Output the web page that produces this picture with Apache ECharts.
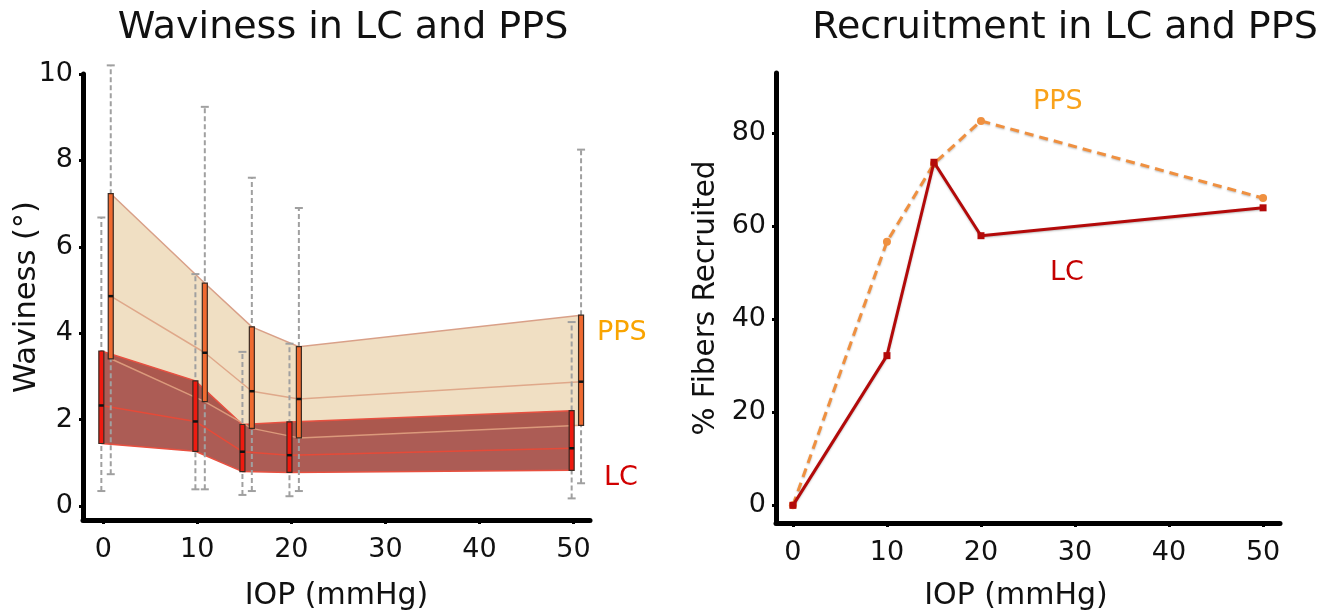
<!DOCTYPE html>
<html>
<head>
<meta charset="utf-8">
<script src="https://cdn.jsdelivr.net/npm/echarts@6/dist/echarts.min.js"></script>
<style>
html,body{margin:0;padding:0;background:#fff;}
#c{width:1339px;height:616px;}
</style>
</head>
<body>
<div id="c"></div>
<script>
// ---- Waviness (left panel) ----
const iop = [0, 10, 15, 20, 50];
const lcMin = [0.35, 0.39, 0.26, 0.23, 0.18];
const lcQ1 = [1.45, 1.27, 0.80, 0.78, 0.83];
const lcMed = [2.33, 1.96, 1.26, 1.18, 1.34];
const lcQ3 = [3.59, 2.90, 1.89, 1.95, 2.21];
const lcMax = [6.68, 5.37, 3.57, 3.76, 4.26];
const ppsMin = [0.74, 0.39, 0.35, 0.35, 0.53];
const ppsQ1 = [3.41, 2.42, 1.80, 1.58, 1.87];
const ppsMed = [4.86, 3.55, 2.66, 2.48, 2.88];
const ppsQ3 = [7.23, 5.16, 4.15, 3.69, 4.42];
const ppsMax = [10.2, 9.24, 7.60, 6.90, 8.25];
const wavYTicks = [0, 2, 4, 6, 8, 10];
const iopTicks = [0, 10, 20, 30, 40, 50];

// ---- Recruitment (right panel) ----
const recIop = [0, 10, 15, 20, 50];
const lcRec = [0, 32.2, 73.8, 58.0, 64.0];
const ppsRec = [0, 56.7, 73.5, 82.7, 66.1];
const recYTicks = [0, 20, 40, 60, 80];

const LC_OFF = -0.2, PPS_OFF = 0.8;
const FONT = 'DejaVu Sans';

function bandRender(q1, q3, off, fill, stroke, drawBottom) {
  return function (params, api) {
    if (params.dataIndex !== 0) return;
    const top = iop.map((x, i) => api.coord([x + off, q3[i]]));
    const bot = iop.map((x, i) => api.coord([x + off, q1[i]]));
    const poly = top.concat(bot.slice().reverse());
    const children = [
      {type: 'polygon', shape: {points: poly}, style: {fill: fill, stroke: null}},
      {type: 'polyline', shape: {points: top}, style: {stroke: stroke, lineWidth: 1.5, fill: null}}
    ];
    if (drawBottom) {
      children.push({type: 'polyline', shape: {points: bot}, style: {stroke: stroke, lineWidth: 1.5, fill: null}});
    }
    return {type: 'group', children: children};
  };
}

function whiskerRender(params, api) {
  const x = api.value(0), lo = api.value(1), hi = api.value(2);
  const p1 = api.coord([x, lo]), p2 = api.coord([x, hi]);
  const c = '#a0a0a0';
  return {
    type: 'group',
    children: [
      {type: 'line', shape: {x1: p1[0], y1: p1[1], x2: p2[0], y2: p2[1]},
       style: {stroke: c, lineWidth: 2, lineDash: [5, 3]}},
      {type: 'line', shape: {x1: p1[0] - 4, y1: p1[1], x2: p1[0] + 4, y2: p1[1]},
       style: {stroke: c, lineWidth: 2}},
      {type: 'line', shape: {x1: p2[0] - 4, y1: p2[1], x2: p2[0] + 4, y2: p2[1]},
       style: {stroke: c, lineWidth: 2}}
    ]
  };
}

function boxRender(fill) {
  return function (params, api) {
    const x = api.value(0), q1 = api.value(1), med = api.value(2), q3 = api.value(3);
    const pt = api.coord([x, q3]), pb = api.coord([x, q1]), pm = api.coord([x, med]);
    const w = 5;
    return {
      type: 'group',
      children: [
        {type: 'rect', shape: {x: pt[0] - w / 2, y: pt[1], width: w, height: pb[1] - pt[1]},
         style: {fill: fill, stroke: '#3a2a22', lineWidth: 1.2}},
        {type: 'line', shape: {x1: pm[0] - w / 2, y1: pm[1], x2: pm[0] + w / 2, y2: pm[1]},
         style: {stroke: '#111', lineWidth: 2.5}}
      ]
    };
  };
}

const axisLineStyle = {show: true, onZero: false, lineStyle: {color: '#000', width: 5}};
const tickStyle = (vals) => ({show: true, length: 4, lineStyle: {color: '#000', width: 3}, customValues: vals});
const labelStyle = (vals, margin) => ({fontSize: 27, color: '#111', fontFamily: FONT, margin: margin, customValues: vals});

const chart = echarts.init(document.getElementById('c'), null, {renderer: 'canvas'});
chart.setOption({
  animation: false,
  backgroundColor: '#fff',
  textStyle: {fontFamily: FONT},
  grid: [
    {left: 83, right: 749, top: 74, bottom: 94},
    {left: 776, right: 59, top: 73, bottom: 89}
  ],
  xAxis: [
    {gridIndex: 0, type: 'value', min: -2.15, max: 51.75,
     axisLine: axisLineStyle, axisTick: tickStyle(iopTicks), axisLabel: labelStyle(iopTicks, 16),
     splitLine: {show: false},
     name: 'IOP (mmHg)', nameLocation: 'middle', nameGap: 61,
     nameTextStyle: {fontSize: 30, color: '#111', fontFamily: FONT}},
    {gridIndex: 1, type: 'value', min: -1.8, max: 51.8,
     axisLine: axisLineStyle, axisTick: tickStyle(iopTicks), axisLabel: labelStyle(iopTicks, 16),
     splitLine: {show: false},
     name: 'IOP (mmHg)', nameLocation: 'middle', nameGap: 58,
     nameTextStyle: {fontSize: 30, color: '#111', fontFamily: FONT, padding: [0, 24, 0, 0]}}
  ],
  yAxis: [
    {gridIndex: 0, type: 'value', min: -0.32, max: 10,
     axisLine: axisLineStyle, axisTick: tickStyle(wavYTicks), axisLabel: labelStyle(wavYTicks, 10),
     splitLine: {show: false},
     name: 'Waviness (°)', nameLocation: 'middle', nameGap: 40, nameMoveOverlap: false,
     nameTextStyle: {fontSize: 30.5, color: '#111', fontFamily: FONT}},
    {gridIndex: 1, type: 'value', min: -3.8, max: 93,
     axisLine: axisLineStyle, axisTick: tickStyle(recYTicks), axisLabel: labelStyle(recYTicks, 10),
     splitLine: {show: false},
     name: '% Fibers Recruited', nameLocation: 'middle', nameGap: 55,
     nameTextStyle: {fontSize: 29.5, color: '#111', fontFamily: FONT}}
  ],
  series: [
    {type: 'custom', xAxisIndex: 0, yAxisIndex: 0, z: 1, silent: true,
     renderItem: bandRender(ppsQ1, ppsQ3, PPS_OFF, '#f0dfc3', '#d9a088', false),
     encode: {x: 0, y: [1, 2]},
     data: iop.map((x, i) => [x + PPS_OFF, ppsQ1[i], ppsQ3[i]])},
    {type: 'line', xAxisIndex: 0, yAxisIndex: 0, z: 2, showSymbol: false, silent: true,
     lineStyle: {color: '#dfa88a', width: 1.5},
     data: iop.map((x, i) => [x + PPS_OFF, ppsMed[i]])},
    {type: 'custom', xAxisIndex: 0, yAxisIndex: 0, z: 3, silent: true,
     renderItem: bandRender(lcQ1, lcQ3, LC_OFF, 'rgba(160,70,62,0.88)', '#e85040', true),
     encode: {x: 0, y: [1, 2]},
     data: iop.map((x, i) => [x + LC_OFF, lcQ1[i], lcQ3[i]])},
    {type: 'line', xAxisIndex: 0, yAxisIndex: 0, z: 4, showSymbol: false, silent: true,
     lineStyle: {color: '#e0a080', width: 1.5, opacity: 0.9},
     data: iop.map((x, i) => [x + PPS_OFF, ppsQ1[i]])},
    {type: 'line', xAxisIndex: 0, yAxisIndex: 0, z: 4, showSymbol: false, silent: true,
     lineStyle: {color: '#e64a38', width: 1.5},
     data: iop.map((x, i) => [x + LC_OFF, lcMed[i]])},
    {type: 'custom', xAxisIndex: 0, yAxisIndex: 0, z: 5, silent: true,
     renderItem: whiskerRender, encode: {x: 0, y: [1, 2]},
     data: iop.map((x, i) => [x + LC_OFF, lcMin[i], lcMax[i]])
       .concat(iop.map((x, i) => [x + PPS_OFF, ppsMin[i], ppsMax[i]]))},
    {type: 'custom', xAxisIndex: 0, yAxisIndex: 0, z: 6, silent: true,
     renderItem: boxRender('#ee1a10'), encode: {x: 0, y: [1, 3]},
     data: iop.map((x, i) => [x + LC_OFF, lcQ1[i], lcMed[i], lcQ3[i]])},
    {type: 'custom', xAxisIndex: 0, yAxisIndex: 0, z: 6, silent: true,
     renderItem: boxRender('#ef6a30'), encode: {x: 0, y: [1, 3]},
     data: iop.map((x, i) => [x + PPS_OFF, ppsQ1[i], ppsMed[i], ppsQ3[i]])},

    {type: 'line', xAxisIndex: 1, yAxisIndex: 1, z: 3, name: 'PPS',
     symbol: 'circle', symbolSize: 8,
     itemStyle: {color: '#ef9040'},
     lineStyle: {color: '#ef9040', width: 3, type: [9, 6],
       shadowColor: 'rgba(0,0,0,0.25)', shadowBlur: 2, shadowOffsetY: 1},
     data: recIop.map((x, i) => [x, ppsRec[i]])},
    {type: 'line', xAxisIndex: 1, yAxisIndex: 1, z: 4, name: 'LC',
     symbol: 'rect', symbolSize: 7,
     itemStyle: {color: '#b30a0a'},
     lineStyle: {color: '#b30a0a', width: 3,
       shadowColor: 'rgba(0,0,0,0.25)', shadowBlur: 2, shadowOffsetY: 1},
     data: recIop.map((x, i) => [x, lcRec[i]])}
  ],
  graphic: [
    {type: 'text', x: 343, y: 28, style: {text: 'Waviness in LC and PPS', font: '38px "DejaVu Sans"', fill: '#111', align: 'center', verticalAlign: 'middle'}},
    {type: 'text', x: 1065, y: 28, style: {text: 'Recruitment in LC and PPS', font: '38px "DejaVu Sans"', fill: '#111', align: 'center', verticalAlign: 'middle'}},
    {type: 'text', x: 597, y: 333, style: {text: 'PPS', font: '27px "DejaVu Sans"', fill: '#f9a400', align: 'left', verticalAlign: 'middle'}},
    {type: 'text', x: 604, y: 478, style: {text: 'LC', font: '27px "DejaVu Sans"', fill: '#d10000', align: 'left', verticalAlign: 'middle'}},
    {type: 'text', x: 1033, y: 102, style: {text: 'PPS', font: '27px "DejaVu Sans"', fill: '#f9a21a', align: 'left', verticalAlign: 'middle'}},
    {type: 'text', x: 1050, y: 273, style: {text: 'LC', font: '27px "DejaVu Sans"', fill: '#c40000', align: 'left', verticalAlign: 'middle'}}
  ]
});
</script>
</body>
</html>
